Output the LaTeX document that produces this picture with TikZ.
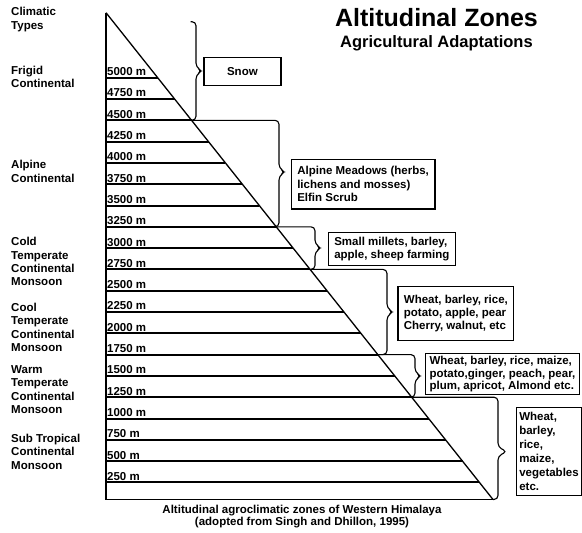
\documentclass[tikz,border=0pt]{standalone}
\usepackage{fontspec}
\setmainfont{Liberation Sans}
\usepackage{tikz}

\begin{document}
\begin{tikzpicture}[x=1pt,y=1pt,
  every node/.style={inner sep=0pt, font=\bfseries\fontsize{11.5}{13.3}\selectfont},
  level/.style={line width=2pt},
  alt/.style={anchor=base west},
  climate/.style={anchor=west, align=left},
  zonebrace/.style={line width=1.1pt, rounded corners=4pt},
  cropbox/.style={draw, line width=1.2pt, anchor=north west, align=left, inner xsep=6pt, inner ysep=3pt}]
\useasboundingbox (0,0) rectangle (582,-533);
% title
\node (title) at (436.5,-18) {\fontsize{25}{28}\selectfont Altitudinal Zones};
\node (subtitle) at (436.5,-43) {\fontsize{16.5}{19}\selectfont Agricultural Adaptations};
% the slope
\coordinate (apex) at (106,-12.7);
\coordinate (foot) at (493,-499.5);
\draw [line width=1.3pt] (apex) -- (foot);
\draw [line width=1.6pt] (apex) -- (106,-499.5) -- (foot);
% altitude levels
\draw [level] (106,-77.7) -- (157.7,-77.7);
\node [alt] (a5000) at (107,-75.6) {5000 m};
\draw [level] (106,-99.0) -- (174.6,-99.0);
\node [alt] (a4750) at (107,-96.9) {4750 m};
\draw [level] (106,-120.3) -- (191.5,-120.3);
\node [alt] (a4500) at (107,-118.2) {4500 m};
\draw [level] (106,-141.6) -- (208.5,-141.6);
\node [alt] (a4250) at (107,-139.5) {4250 m};
\draw [level] (106,-162.9) -- (225.4,-162.9);
\node [alt] (a4000) at (107,-160.8) {4000 m};
\draw [level] (106,-184.2) -- (242.3,-184.2);
\node [alt] (a3750) at (107,-182.1) {3750 m};
\draw [level] (106,-205.5) -- (259.3,-205.5);
\node [alt] (a3500) at (107,-203.4) {3500 m};
\draw [level] (106,-226.8) -- (276.2,-226.8);
\node [alt] (a3250) at (107,-224.7) {3250 m};
\draw [level] (106,-248.1) -- (293.1,-248.1);
\node [alt] (a3000) at (107,-246.0) {3000 m};
\draw [level] (106,-269.4) -- (310.1,-269.4);
\node [alt] (a2750) at (107,-267.3) {2750 m};
\draw [level] (106,-290.7) -- (327.0,-290.7);
\node [alt] (a2500) at (107,-288.6) {2500 m};
\draw [level] (106,-312.0) -- (343.9,-312.0);
\node [alt] (a2250) at (107,-309.9) {2250 m};
\draw [level] (106,-333.3) -- (360.9,-333.3);
\node [alt] (a2000) at (107,-331.2) {2000 m};
\draw [level] (106,-354.6) -- (377.8,-354.6);
\node [alt] (a1750) at (107,-352.5) {1750 m};
\draw [level] (106,-375.9) -- (394.7,-375.9);
\node [alt] (a1500) at (107,-373.8) {1500 m};
\draw [level] (106,-397.2) -- (411.7,-397.2);
\node [alt] (a1250) at (107,-395.1) {1250 m};
\draw [level] (106,-418.5) -- (428.6,-418.5);
\node [alt] (a1000) at (107,-416.4) {1000 m};
\draw [level] (106,-439.8) -- (445.5,-439.8);
\node [alt] (a750) at (107,-437.7) {750 m};
\draw [level] (106,-461.1) -- (462.5,-461.1);
\node [alt] (a500) at (107,-459.0) {500 m};
\draw [level] (106,-482.4) -- (479.4,-482.4);
\node [alt] (a250) at (107,-480.3) {250 m};
% climatic types
\node [climate] (types) at (11,-19.5) {Climatic\\Types};
\node [climate] (frigid) at (11,-77) {Frigid\\Continental};
\node [climate] (alpine) at (11,-171.5) {Alpine\\Continental};
\node [climate] (cold) at (11,-261.7) {Cold\\Temperate\\Continental\\Monsoon};
\node [climate] (cool) at (11,-327.5) {Cool\\Temperate\\Continental\\Monsoon};
\node [climate] (warm) at (11,-389.7) {Warm\\Temperate\\Continental\\Monsoon};
\node [climate] (subtrop) at (11,-451.7) {Sub Tropical\\Continental\\Monsoon};
% braces
\draw [zonebrace] (190.7,-21.7) -- (196,-21.7) -- (196,-67) -- (202,-71) -- (196,-75) -- (196,-120.3) -- (191.5,-120.3);
\draw [zonebrace] (191.5,-120.3) -- (279,-120.3) -- (279,-168) -- (285,-172) -- (279,-176) -- (279,-226.8) -- (276.2,-226.8);
\draw [zonebrace] (276.2,-226.8) -- (315,-226.8) -- (315,-244) -- (321,-248) -- (315,-252) -- (315,-269.4) -- (310.1,-269.4);
\draw [zonebrace] (310.1,-269.4) -- (387,-269.4) -- (387,-308) -- (393,-312) -- (387,-316) -- (387,-354.6) -- (377.8,-354.6);
\draw [zonebrace] (377.8,-354.6) -- (415,-354.6) -- (415,-372) -- (421,-376) -- (415,-380) -- (415,-397.2) -- (411.7,-397.2);
\draw [zonebrace] (411.7,-397.2) -- (498,-397.2) -- (498,-447) -- (507,-451.7) -- (498,-456) -- (498,-499.5) -- (foot);
% crops
\node [cropbox, minimum width=77, minimum height=28, align=center] (snow) at (203.3,-57) {Snow};
\node [cropbox, minimum height=49.6] (meadows) at (290.7,-158.7) {Alpine Meadows (herbs,\\lichens and mosses)\\Elfin Scrub};
\node [cropbox, minimum height=33] (millets) at (327.7,-231.7) {Small millets, barley,\\apple, sheep farming};
\node [cropbox, minimum height=54.3] (cherry) at (397.3,-285.7) {Wheat, barley, rice,\\potato, apple, pear\\Cherry, walnut, etc};
\node [cropbox, minimum height=41.3, font=\bfseries\fontsize{11.5}{12.4}\selectfont, inner xsep=4pt] (almond) at (425,-352.7) {Wheat, barley, rice, maize,\\potato,ginger, peach, pear,\\plum, apricot, Almond etc.};
\node [cropbox, minimum height=88.3, font=\bfseries\fontsize{11.5}{13.9}\selectfont, inner xsep=3pt] (veg) at (515.7,-406.7) {Wheat,\\barley,\\rice,\\maize,\\vegetables\\etc.};
% caption
\node [align=center, font=\bfseries\fontsize{11.5}{11.7}\selectfont] (caption) at (302,-516.8) {Altitudinal agroclimatic zones of Western Himalaya\\(adopted from Singh and Dhillon, 1995)};
\end{tikzpicture}
\end{document}
